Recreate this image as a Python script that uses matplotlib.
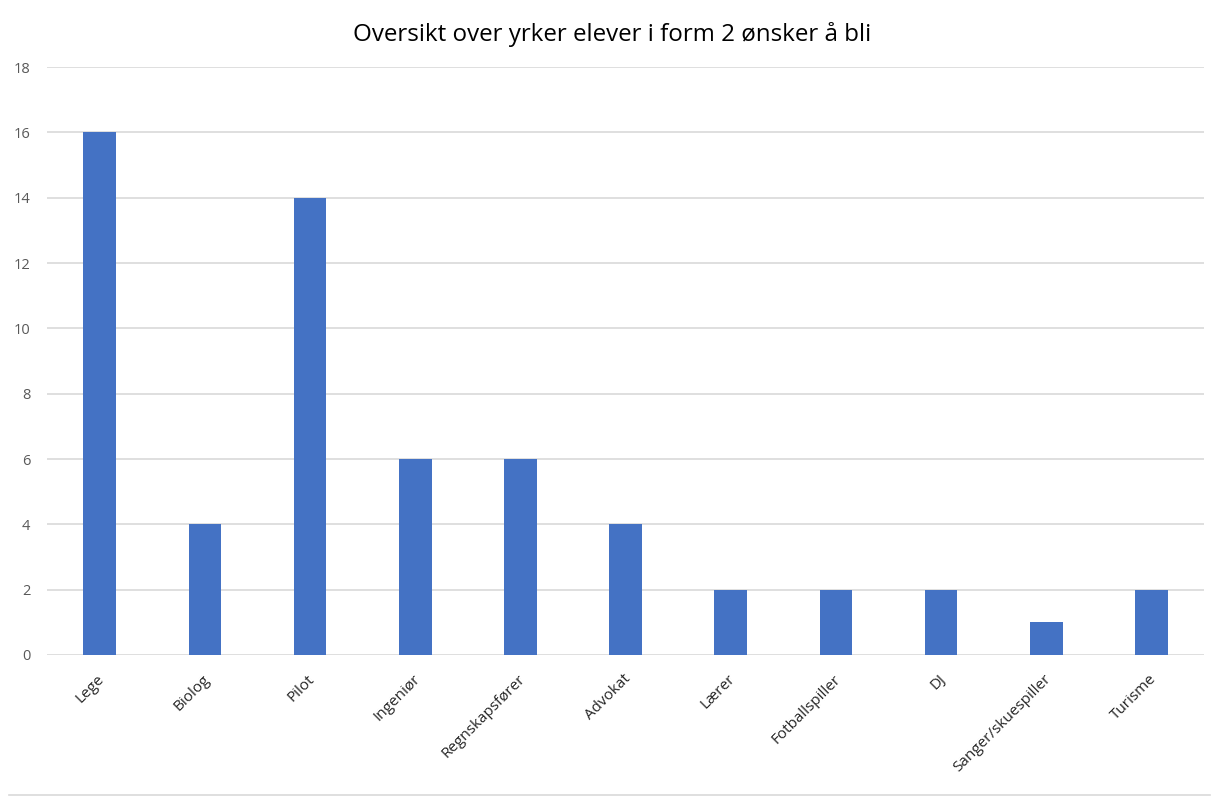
import matplotlib
matplotlib.use("Agg")
import matplotlib.pyplot as plt
from matplotlib.lines import Line2D
from matplotlib.transforms import ScaledTranslation

plt.rcParams['font.family'] = ['Open Sans', 'DejaVu Sans']

# data
yrker = ['Lege', 'Biolog', 'Pilot', 'Ingeniør', 'Regnskapsfører', 'Advokat',
         'Lærer', 'Fotballspiller', 'DJ', 'Sanger/skuespiller', 'Turisme']
antall = [16, 4, 14, 6, 6, 4, 2, 2, 2, 1, 2]
y_ticks = [0, 2, 4, 6, 8, 10, 12, 14, 16, 18]

fig = plt.figure(figsize=(12.16, 7.98), dpi=100)
ax = fig.add_axes([0.0387, 0.1792, 0.9515, 0.7368])

x = list(range(len(yrker)))
ax.bar(x, antall, width=0.31, color='#4472C4', zorder=3)

ax.set_xlim(-0.5, len(yrker) - 0.5)
ax.set_ylim(0, 18)
ax.set_yticks(y_ticks)
ax.set_yticklabels([str(v) for v in y_ticks], color='#595959', fontsize=10.5)
ax.set_xticks(x)
ax.set_xticklabels(yrker, rotation=45, ha='right', rotation_mode='anchor',
                   fontsize=11, color='#262626')
ax.tick_params(axis='both', length=0)
ax.tick_params(axis='x', pad=12)
ax.tick_params(axis='y', pad=12)

# small nudge of the category labels to the left
shift = ScaledTranslation(-2 / 72, 0, fig.dpi_scale_trans)
for lbl in ax.get_xticklabels():
    lbl.set_transform(lbl.get_transform() + shift)

ax.grid(axis='y', color='#D9D9D9', linewidth=1.2, zorder=0)
for s in ax.spines.values():
    s.set_visible(False)

ax.set_title('Oversikt over yrker elever i form 2 ønsker å bli', fontsize=17.4,
             color='#000000', pad=19, x=0.488)

# chart border line at bottom
fig.add_artist(Line2D([0.007, 0.995], [0.004, 0.004], color='#D9D9D9', linewidth=1.2))

fig.savefig('out.png', dpi=100)
